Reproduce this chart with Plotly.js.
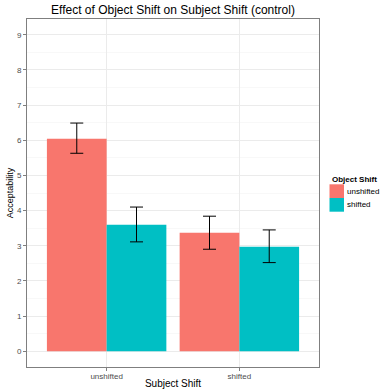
<!DOCTYPE html>
<html><head><meta charset="utf-8">
<script src="https://cdn.plot.ly/plotly-3.0.1.min.js"></script>
<style>html,body{margin:0;padding:0;background:#fff}#c{width:380px;height:390px}</style>
</head><body><div id="c"></div>
<script>
var categories = ["unshifted", "shifted"];
var seriesNames = ["unshifted", "shifted"];
var unshiftedMeans = [6.04, 3.37];
var unshiftedUpper = [0.45, 0.47];
var unshiftedLower = [0.41, 0.47];
var shiftedMeans = [3.60, 2.97];
var shiftedUpper = [0.50, 0.48];
var shiftedLower = [0.49, 0.45];
var colors = ["#F8766D", "#00BFC4"];
var yTicks = [0,1,2,3,4,5,6,7,8,9];
var legendTitle = "Object Shift";

function tr(i, y, up, lo){
  return {type:'bar', name:seriesNames[i], x:categories, y:y,
    marker:{color:colors[i], line:{width:0}},
    error_y:{type:'data', symmetric:false, array:up, arrayminus:lo, color:'#000', thickness:1, width:6.5},
    hoverinfo:'none', showlegend:false};
}
var data = [tr(0, unshiftedMeans, unshiftedUpper, unshiftedLower), tr(1, shiftedMeans, shiftedUpper, shiftedLower)];
var F = "Liberation Sans, Arial, sans-serif";
// plot area in pixels: left 27, right 319, top 19, bottom 367
function px(x){ return (x-27)/292; }
function py(y){ return (367-y)/348; }
var shapes = [], annotations = [];
annotations.push({xref:'paper', yref:'paper', x:px(329.5), y:py(179), xanchor:'left', yanchor:'middle', showarrow:false,
  text:'<b>'+legendTitle+'</b>', font:{family:F, size:8, color:'#000'}});
for (var i=0;i<seriesNames.length;i++){
  var keyTop = 184.3 + i*13.7;
  shapes.push({type:'rect', xref:'paper', yref:'paper', x0:px(329.5), x1:px(344), y0:py(keyTop+13.7), y1:py(keyTop),
    fillcolor:colors[i], line:{width:0}, layer:'above'});
  annotations.push({xref:'paper', yref:'paper', x:px(344.5), y:py(keyTop+6.8), xanchor:'left', yanchor:'middle', showarrow:false,
    text:seriesNames[i], font:{family:F, size:8, color:'#000'}});
}
var layout = {
  width:380, height:390, margin:{l:27, r:61, t:19, b:23, autoexpand:false},
  paper_bgcolor:'#fff', plot_bgcolor:'#fff',
  font:{family:F, size:8, color:'#4d4d4d'},
  title:{text:'Effect of Object Shift on Subject Shift (control)', font:{family:F, size:12, color:'#000'}, xref:'paper', x:0.5, xanchor:'center', y:0.985, yanchor:'top'},
  barmode:'group', bargap:0.1, bargroupgap:0,
  xaxis:{type:'category', range:[-0.6, 1.6], showgrid:true, gridcolor:'#ebebeb', gridwidth:1,
    showline:true, mirror:true, linecolor:'#7f7f7f', linewidth:1, automargin:false,
    ticks:'outside', ticklen:3, tickcolor:'#7f7f7f', tickfont:{size:8, color:'#4d4d4d'}, ticklabelstandoff:-2,
    title:{text:'Subject Shift', font:{size:10, color:'#000'}, standoff:0}, zeroline:false},
  yaxis:{range:[-0.45, 9.45], tickvals:yTicks, showgrid:true, gridcolor:'#ebebeb', gridwidth:1,
    minor:{dtick:0.5, tick0:0.5, showgrid:true, gridcolor:'#f8f8f8', gridwidth:1, ticks:''},
    showline:true, mirror:true, linecolor:'#7f7f7f', linewidth:1, automargin:false,
    ticks:'outside', ticklen:3, tickcolor:'#7f7f7f', tickfont:{size:8, color:'#4d4d4d'},
    title:{text:'Acceptability', font:{size:9, color:'#000'}, standoff:1}, zeroline:false},
  showlegend:false,
  shapes:shapes, annotations:annotations
};
Plotly.newPlot('c', data, layout, {staticPlot:true});
</script></body></html>
